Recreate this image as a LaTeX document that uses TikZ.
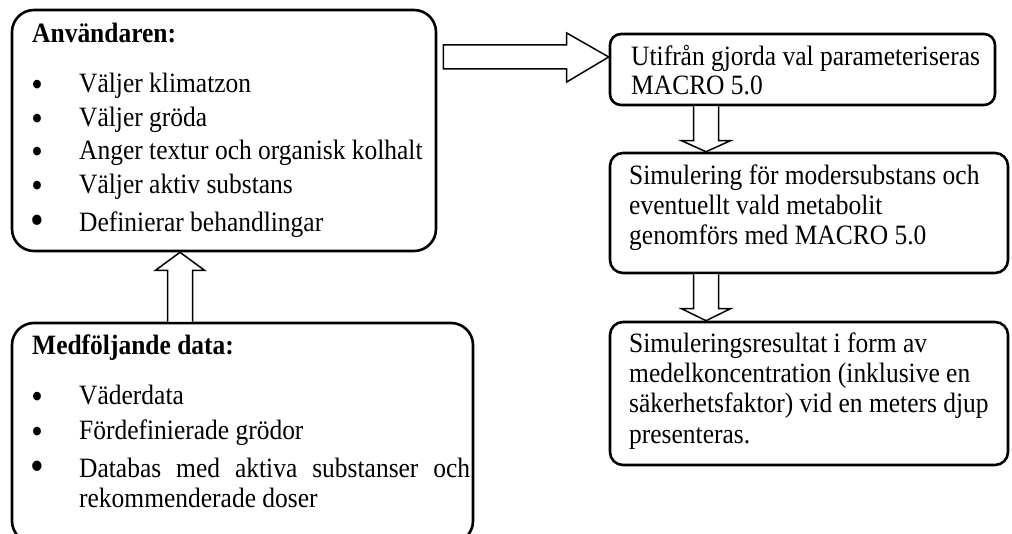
\documentclass[tikz,border=0pt]{standalone}
\usepackage{fontspec}
\setmainfont{Liberation Serif}[FakeStretch=0.91]
\usetikzlibrary{calc}
\tikzset{
  box/.style={draw, line width=2.6pt, inner sep=0pt, fill=white},
  barrow/.style={draw, line width=1.5pt, fill=white, line join=miter},
  txt/.style={anchor=base west, inner sep=0pt, font=\fontsize{28}{30}\selectfont},
  bul/.style={anchor=base, inner sep=0pt, yshift=-4pt, font=\fontsize{36}{30}\selectfont},
  bigbul/.style={anchor=base, inner sep=0pt, yshift=-3pt, font=\fontsize{43}{30}\selectfont},
}
\begin{document}
\begin{tikzpicture}[x=1pt,y=-1pt]
\useasboundingbox (0,0) rectangle (1012,534);
% boxes
\node[box, rounded corners=22pt, minimum width=424pt, minimum height=241pt] (b1) at (224,130.5) {};
\node[box, rounded corners=11pt, minimum width=385pt, minimum height=71pt] (b2) at (802.5,69.5) {};
\node[box, rounded corners=13pt, minimum width=398pt, minimum height=120pt] (b3) at (809,213) {};
\node[box, rounded corners=13pt, minimum width=398pt, minimum height=143pt] (b4) at (809,393.5) {};
\node[box, rounded corners=22pt, minimum width=461pt, minimum height=220pt] (b5) at (242.5,433) {};
% block arrows
\path (b1.east |- 0,57) coordinate (a1s) (b2.west |- 0,57) coordinate (a1e);
\draw[barrow] ($(a1s)+(6,-12)$) -- ($(a1e)+(-42,-12)$) -- ($(a1e)+(-42,-24)$) -- (a1e)
  -- ($(a1e)+(-42,25)$) -- ($(a1e)+(-42,12)$) -- ($(a1s)+(6,12)$) -- cycle;
\path (b2.south -| 706,0) coordinate (a2s) (b3.north -| 706,0) coordinate (a2e);
\draw[barrow] ($(a2s)+(-12.5,0)$) -- ($(a2e)+(-12.5,-11)$) -- ($(a2e)+(-24.5,-11)$) -- (a2e)
  -- ($(a2e)+(24.5,-11)$) -- ($(a2e)+(12.5,-11)$) -- ($(a2s)+(12.5,0)$);
\path (b3.south -| 706,0) coordinate (a3s) (b4.north -| 706,0) coordinate (a3e);
\draw[barrow] ($(a3s)+(-12.5,0)$) -- ($(a3e)+(-12.5,-12)$) -- ($(a3e)+(-24.5,-12)$) -- (a3e)
  -- ($(a3e)+(24.5,-12)$) -- ($(a3e)+(12.5,-12)$) -- ($(a3s)+(12.5,0)$);
\path (b5.north -| 180,0) coordinate (a4s) (b1.south -| 180,0) coordinate (a4e);
\draw[barrow] ($(a4s)+(-12.5,0)$) -- ($(a4e)+(-12.5,18)$) -- ($(a4e)+(-24.5,18)$) -- (a4e)
  -- ($(a4e)+(24.5,18)$) -- ($(a4e)+(12.5,18)$) -- ($(a4s)+(12.5,0)$);
% box 1 text
\node[txt] (h1) at (32,43) {\bfseries Användaren:};
\node[bul] (u1) at (37,93) {•};
\node[txt] (l1) at (79,93) {Väljer klimatzon};
\node[bul] (u2) at (37,127) {•};
\node[txt] (l2) at (79,127) {Väljer gröda};
\node[bul] (u3) at (37,160) {•};
\node[txt] (l3) at (79,160) {Anger textur och organisk kolhalt};
\node[bul] (u4) at (37,194) {•};
\node[txt] (l4) at (79,194) {Väljer aktiv substans};
\node[bigbul] (u5) at (37,232) {•};
\node[txt] (l5) at (79,232) {Definierar behandlingar};
% box 2 text
\node[txt] (m1) at (631,66) {Utifrån gjorda val parameteriseras};
\node[txt] (m2) at (631,95) {MACRO 5.0};
% box 3 text
\node[txt] (s1) at (629,185) {Simulering för modersubstans och};
\node[txt] (s2) at (629,215) {eventuellt vald metabolit};
\node[txt] (s3) at (629,245) {genomförs med MACRO 5.0};
% box 4 text
\node[txt] (r1) at (629,353) {Simuleringsresultat i form av};
\node[txt] (r2) at (629,383) {medelkoncentration (inklusive en};
\node[txt] (r3) at (629,413) {säkerhetsfaktor) vid en meters djup};
\node[txt] (r4) at (629,443) {presenteras.};
% box 5 text
\node[txt] (h5) at (32,355) {\bfseries Medföljande data:};
\node[bul] (v1) at (37,405) {•};
\node[txt] (d1) at (79,405) {Väderdata};
\node[bul] (v2) at (37,439) {•};
\node[txt] (d2) at (79,439) {Fördefinierade grödor};
\node[bigbul] (v3) at (37,477) {•};
\node[txt] (d3) at (79,477) {\makebox[391pt][s]{Databas med aktiva substanser och}};
\node[txt] (d4) at (79,507) {rekommenderade doser};
\end{tikzpicture}
\end{document}
